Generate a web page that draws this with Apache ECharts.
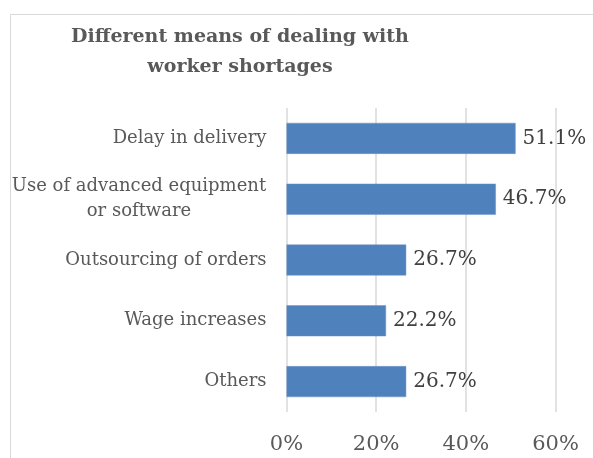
<!DOCTYPE html>
<html>
<head>
<meta charset="utf-8">
<script src="https://cdn.jsdelivr.net/npm/echarts@6/dist/echarts.min.js"></script>
<style>
  html, body { margin: 0; padding: 0; background: #fff; }
  #chart { width: 593px; height: 458px; }
</style>
</head>
<body>
<div id="chart"></div>
<script>
// Survey: ways firms cope with worker shortages (share of respondents, %)
const categories = [
  'Delay in delivery',
  'Use of advanced equipment\nor software',
  'Outsourcing of orders',
  'Wage increases',
  'Others'
];
const shares = [51.1, 46.7, 26.7, 22.2, 26.7];
const axisTicks = [0, 20, 40, 60];

const titleText = 'Different means of dealing with\nworker shortages';
const serif = '"DejaVu Serif", "Liberation Serif", serif';
const catSize = 18;

// Measure a label line so the shorter line of a wrapped label can be centred under the longer one
function textWidth(str, font) {
  const c = document.createElement('canvas').getContext('2d');
  c.font = font;
  return c.measureText(str).width;
}

const chart = echarts.init(document.getElementById('chart'));
chart.setOption({
  animation: false,
  backgroundColor: '#ffffff',
  graphic: [{
    type: 'rect',
    shape: { x: 10.5, y: 14.5, width: 700, height: 600 },
    style: { fill: 'none', stroke: '#d9d9d9', lineWidth: 1 },
    silent: true,
    z: -1
  }, {
    type: 'text',
    x: 240,
    y: 52,
    silent: true,
    style: {
      text: titleText,
      align: 'center',
      verticalAlign: 'middle',
      fontFamily: serif,
      fontWeight: 'bold',
      fontSize: 19,
      lineHeight: 30,
      fill: '#595959'
    }
  }],
  grid: { left: 286.5, right: 37.5, top: 108, bottom: 46, containLabel: false },
  xAxis: {
    type: 'value',
    min: axisTicks[0],
    max: axisTicks[axisTicks.length - 1],
    interval: axisTicks[1] - axisTicks[0],
    axisLine: { show: false },
    axisTick: { show: false },
    splitLine: { lineStyle: { color: '#d9d9d9', width: 1.5 } },
    axisLabel: {
      formatter: v => v + '%',
      fontFamily: serif,
      fontSize: 21,
      color: '#595959',
      margin: 22
    }
  },
  yAxis: {
    type: 'category',
    inverse: true,
    data: categories,
    axisLine: { show: false },
    axisTick: { show: false },
    axisLabel: {
      margin: 20,
      fontFamily: serif,
      fontSize: catSize,
      color: '#595959',
      align: 'right',
      formatter: function (v) {
        const lines = v.split('\n');
        if (lines.length === 1) return '{a|' + v + '}';
        return lines.map(l => '{c|' + l + '}').join('\n');
      },
      rich: {
        a: { fontFamily: serif, fontSize: catSize, color: '#595959' },
        c: {
          fontFamily: serif, fontSize: catSize, color: '#595959', lineHeight: 25,
          width: Math.ceil(textWidth('Use of advanced equipment', catSize + 'px ' + serif)),
          align: 'center'
        }
      }
    }
  },
  series: [{
    type: 'bar',
    data: shares,
    barWidth: 31,
    itemStyle: { color: '#4f81bd', borderColor: '#6f97c9', borderWidth: 0.5 },
    label: {
      show: true,
      position: 'right',
      distance: 7,
      formatter: p => p.value.toFixed(1) + '%',
      fontFamily: serif,
      fontSize: 20,
      color: '#404040'
    }
  }]
});
</script>
</body>
</html>
